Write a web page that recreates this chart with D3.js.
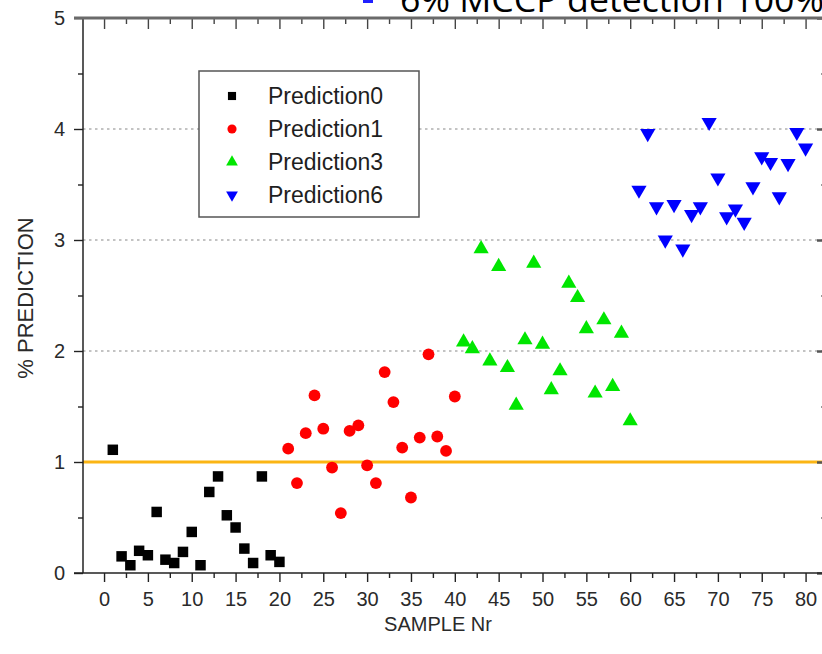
<!DOCTYPE html>
<html lang="en">
<head>
<meta charset="UTF-8">
<title>Prediction scatter</title>
<script src="https://d3js.org/d3.v7.min.js"></script>
<style>
  body { margin: 0; background: #fff; }
  svg { display: block; font-family: Arial, "Liberation Sans", sans-serif; }
  .tick text { fill: #2a2a2a; }
</style>
</head>
<body>
<script>

// ================== DATA ==================
var samples0 = [1,2,3,4,5,6,7,8,9,10,11,12,13,14,15,16,17,18,19,20];
var pred0 = [1.11,0.15,0.07,0.20,0.16,0.55,0.12,0.09,0.19,0.37,0.07,0.73,0.87,0.52,0.41,0.22,0.09,0.87,0.16,0.10];

var samples1 = [21,22,23,24,25,26,27,28,29,30,31,32,33,34,35,36,37,38,39,40];
var pred1 = [1.12,0.81,1.26,1.60,1.30,0.95,0.54,1.28,1.33,0.97,0.81,1.81,1.54,1.13,0.68,1.22,1.97,1.23,1.10,1.59];

var samples3 = [41,42,43,44,45,46,47,48,49,50,51,52,53,54,55,56,57,58,59,60];
var pred3 = [2.08,2.02,2.92,1.91,2.76,1.85,1.51,2.10,2.79,2.06,1.65,1.82,2.61,2.48,2.20,1.62,2.28,1.68,2.16,1.37];

var samples6 = [61,62,63,64,65,66,67,68,69,70,71,72,73,74,75,76,77,78,79,80];
var pred6 = [3.45,3.96,3.30,3.00,3.32,2.92,3.23,3.30,4.06,3.56,3.21,3.28,3.16,3.48,3.75,3.70,3.39,3.69,3.97,3.83];

var seriesNames = ["Prediction0", "Prediction1", "Prediction3", "Prediction6"];
var xTickValues = [0,5,10,15,20,25,30,35,40,45,50,55,60,65,70,75,80];
var xMinorValues = [-2.5,2.5,7.5,12.5,17.5,22.5,27.5,32.5,37.5,42.5,47.5,52.5,57.5,62.5,67.5,72.5,77.5];
var yTickValues = [0,1,2,3,4,5];
var yMinorValues = [0.5,1.5,2.5,3.5,4.5];
var gridValues = [1,2,3,4];
var threshold = 1;

// ================== INIT SVG ==================
var w = 822;
var h = 654;
var plot = { left: 83, right: 824, top: 18, bottom: 573 };

var svg = d3.select("body").append("svg")
    .attr("width", w)
    .attr("height", h);

// ================== SCALES ==================
var x = d3.scaleLinear().domain([-2.4, 82.1]).range([plot.left, plot.right]);
var y = d3.scaleLinear().domain([0, 5]).range([plot.bottom, plot.top]);

var series = [
    { name: seriesNames[0], xs: samples0, ys: pred0, type: d3.symbolSquare,   size: 110, color: "#000000", rot: 0 },
    { name: seriesNames[1], xs: samples1, ys: pred1, type: d3.symbolCircle,   size: 110, color: "#ff0000", rot: 0 },
    { name: seriesNames[2], xs: samples3, ys: pred3, type: d3.symbolTriangle, size: 100, color: "#00e600", rot: 0 },
    { name: seriesNames[3], xs: samples6, ys: pred6, type: d3.symbolTriangle, size: 100, color: "#0000ff", rot: 180 }
];

var xMinor = xMinorValues.filter(function(d){ return d > -2.4; });

// ================== GRIDLINES ==================
svg.append("g")
    .selectAll("line")
    .data(gridValues)
    .enter().append("line")
    .attr("x1", plot.left).attr("x2", w)
    .attr("y1", function(d){ return y(d); })
    .attr("y2", function(d){ return y(d); })
    .attr("stroke", "#b0b0b0")
    .attr("stroke-width", 1.6)
    .attr("stroke-dasharray", "2.5,3.5");

// threshold line
svg.append("line")
    .attr("x1", plot.left).attr("x2", w)
    .attr("y1", y(threshold)).attr("y2", y(threshold))
    .attr("stroke", "#fbb514")
    .attr("stroke-width", 3);

// ================== AXES ==================
function styleAxis(g){
    g.select(".domain").remove();
    g.selectAll(".tick line").attr("stroke", "#222").attr("stroke-width", 1.4);
}

// bottom
var xAxis = svg.append("g")
    .attr("transform", "translate(0," + plot.bottom + ")")
    .call(d3.axisBottom(x).tickValues(xTickValues).tickSize(9).tickPadding(10)
        .tickFormat(d3.format("d")));
styleAxis(xAxis);
xAxis.selectAll("text").attr("font-size", 20).attr("font-family", "Arial, 'Liberation Sans', sans-serif");
svg.append("g")
    .attr("transform", "translate(0," + plot.bottom + ")")
    .call(d3.axisBottom(x).tickValues(xMinor).tickSize(5).tickFormat(""))
    .call(styleAxis);

// top (ticks inward)
svg.append("g")
    .attr("transform", "translate(0," + plot.top + ")")
    .call(d3.axisTop(x).tickValues(xTickValues).tickSize(-11).tickFormat(""))
    .call(styleAxis)
    .selectAll(".tick line").attr("stroke", "#444");
svg.append("g")
    .attr("transform", "translate(0," + plot.top + ")")
    .call(d3.axisTop(x).tickValues(xMinor).tickSize(-6).tickFormat(""))
    .call(styleAxis)
    .selectAll(".tick line").attr("stroke", "#444");

// left
var yAxis = svg.append("g")
    .attr("transform", "translate(" + plot.left + ",0)")
    .call(d3.axisLeft(y).tickValues(yTickValues).tickSize(9).tickPadding(9)
        .tickFormat(d3.format("d")));
styleAxis(yAxis);
yAxis.selectAll("text").attr("font-size", 20).attr("font-family", "Arial, 'Liberation Sans', sans-serif");
svg.append("g")
    .attr("transform", "translate(" + plot.left + ",0)")
    .call(d3.axisLeft(y).tickValues(yMinorValues).tickSize(5).tickFormat(""))
    .call(styleAxis);

// right (ticks inward, mostly off canvas)
svg.append("g")
    .attr("transform", "translate(" + plot.right + ",0)")
    .call(d3.axisRight(y).tickValues(yTickValues).tickSize(-7).tickFormat(""))
    .call(styleAxis)
    .selectAll(".tick line").attr("stroke", "#555").attr("stroke-width", 2.5);
svg.append("g")
    .attr("transform", "translate(" + plot.right + ",0)")
    .call(d3.axisRight(y).tickValues(yMinorValues).tickSize(-3).tickFormat(""))
    .call(styleAxis)
    .selectAll(".tick line").attr("stroke", "#777");

// frame lines
svg.append("line").attr("x1", plot.left).attr("x2", plot.left).attr("y1", plot.top).attr("y2", plot.bottom)
    .attr("stroke", "#222").attr("stroke-width", 1.5);
svg.append("line").attr("x1", plot.left - 9).attr("x2", w).attr("y1", plot.bottom).attr("y2", plot.bottom)
    .attr("stroke", "#222").attr("stroke-width", 1.5);
svg.append("line").attr("x1", plot.left - 9).attr("x2", w).attr("y1", plot.top).attr("y2", plot.top)
    .attr("stroke", "#6a6a6a").attr("stroke-width", 3);

// axis labels
svg.append("text")
    .attr("x", 438).attr("y", 631)
    .attr("text-anchor", "middle")
    .attr("font-size", 20)
    .attr("fill", "#2a2a2a")
    .text("SAMPLE Nr");
svg.append("text")
    .attr("transform", "translate(33,298) rotate(-90)")
    .attr("text-anchor", "middle")
    .attr("font-size", 22)
    .attr("fill", "#2a2a2a")
    .text("% PREDICTION");

// ================== POINTS ==================
series.forEach(function(s){
    var pts = s.xs.map(function(d, i){ return { n: d, v: s.ys[i] }; });
    svg.append("g")
        .selectAll("path")
        .data(pts)
        .enter().append("path")
        .attr("d", d3.symbol().type(s.type).size(s.size))
        .attr("transform", function(d){
            return "translate(" + x(d.n) + "," + y(d.v) + ") rotate(" + s.rot + ")";
        })
        .attr("fill", s.color);
});

// ================== LEGEND ==================
var legend = svg.append("g").attr("transform", "translate(199,71)");
legend.append("rect")
    .attr("width", 220).attr("height", 146)
    .attr("fill", "#fff")
    .attr("stroke", "#555")
    .attr("stroke-width", 1.5);
var rows = legend.selectAll(".row")
    .data(series)
    .enter().append("g")
    .attr("transform", function(d, i){ return "translate(0," + (25 + i * 33) + ")"; });
rows.append("path")
    .attr("d", function(d){ return d3.symbol().type(d.type).size(d.size * 0.6)(); })
    .attr("transform", function(d){ return "translate(33,0) rotate(" + d.rot + ")"; })
    .attr("fill", function(d){ return d.color; });
rows.append("text")
    .attr("x", 69).attr("y", 8)
    .attr("font-size", 23)
    .attr("fill", "#1e1e1e")
    .text(function(d){ return d.name; });

// ================== CLIPPED HEADER ==================
svg.append("rect")
    .attr("x", 363).attr("y", 0).attr("width", 10).attr("height", 3)
    .attr("fill", "#2020ff");
svg.append("text")
    .attr("x", 400).attr("y", 12)
    .attr("font-size", 34)
    .attr("font-family", "'Open Sans', 'Liberation Sans', sans-serif")
    .attr("textLength", 424)
    .attr("lengthAdjust", "spacingAndGlyphs")
    .attr("fill", "#000")
    .text("6% MCCP detection 100%");

</script>
</body>
</html>
